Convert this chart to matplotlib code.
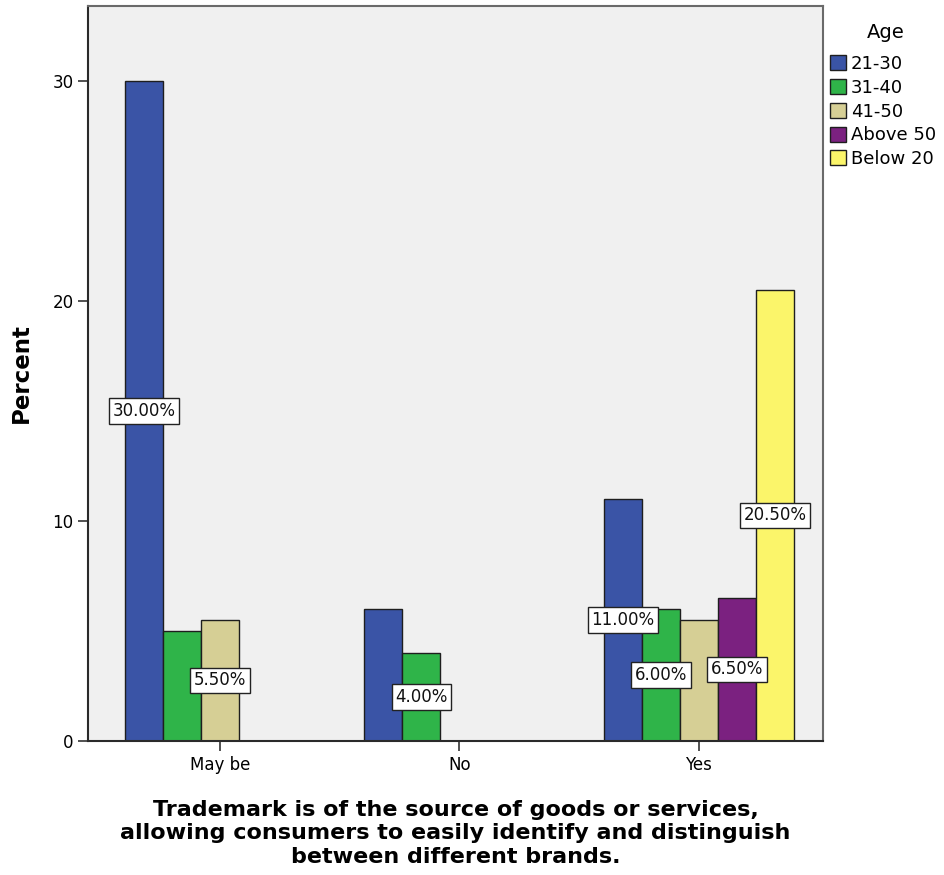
import matplotlib
matplotlib.use("Agg")
import matplotlib.pyplot as plt
from matplotlib.patches import Patch
import numpy as np

plt.rcParams['font.family'] = ['DejaVu Sans']

# Answer categories on the x axis and the age groups drawn as clustered bars
categories = ["May be", "No", "Yes"]
age_groups = ["21-30", "31-40", "41-50", "Above 50", "Below 20"]

# Percent of respondents per answer (nan = group absent for that answer)
pct_21_30 = [30.0, 6.0, 11.0]
pct_31_40 = [5.0, 4.0, 6.0]
pct_41_50 = [5.5, np.nan, 5.5]
pct_above_50 = [np.nan, np.nan, 6.5]
pct_below_20 = [np.nan, np.nan, 20.5]

# Which bars carry a value label
show_21_30 = [True, False, True]
show_31_40 = [False, True, True]
show_41_50 = [True, False, False]
show_above_50 = [False, False, True]
show_below_20 = [False, False, True]

y_ticks = [0, 10, 20, 30]

series = [pct_21_30, pct_31_40, pct_41_50, pct_above_50, pct_below_20]
shows = [show_21_30, show_31_40, show_41_50, show_above_50, show_below_20]
colors = ["#3a54a6", "#2fb449", "#d6cf95", "#7b2180", "#fbf56a"]

fig = plt.figure(figsize=(9.44, 8.75), dpi=100)
ax = fig.add_axes([88 / 944, 1 - 741 / 875, (823 - 88) / 944, (741 - 6) / 875])
ax.set_facecolor("#f0f0f0")

x = np.arange(len(categories))
width = 0.159
for i, (vals, show, col) in enumerate(zip(series, shows, colors)):
    pos = x + (i - 2) * width
    ax.bar(pos, vals, width=width, color=col, edgecolor="#1e1e1e",
           linewidth=1.0, zorder=2)
    for xp, v, s in zip(pos, vals, show):
        if s and not np.isnan(v):
            ax.text(xp, v / 2, f"{v:.2f}%", ha="center", va="center",
                    fontsize=12, color="#111111", zorder=4,
                    bbox=dict(boxstyle="square,pad=0.22", fc="white",
                              ec="#222222", lw=1.0))

ax.set_xlim(-0.551, 2.518)
ax.set_ylim(0, 33.4)
ax.set_xticks(x)
ax.set_xticklabels(categories, fontsize=12)
ax.set_yticks(y_ticks)
ax.set_yticklabels([str(t) for t in y_ticks], fontsize=12)
ax.tick_params(axis="both", direction="out", length=7.5, width=1.2,
               color="#333333", pad=3)

for side in ["left", "bottom"]:
    ax.spines[side].set_color("#2a2a2a")
    ax.spines[side].set_linewidth(1.5)
for side in ["top", "right"]:
    ax.spines[side].set_color("#6a6a6a")
    ax.spines[side].set_linewidth(1.5)

ax.set_ylabel("Percent", fontsize=16.5, fontweight="bold", labelpad=14)
ax.set_xlabel("Trademark is of the source of goods or services,\n"
              "allowing consumers to easily identify and distinguish\n"
              "between different brands.",
              fontsize=16, fontweight="bold", labelpad=19, linespacing=1.22)

handles = [Patch(facecolor=c, edgecolor="#1e1e1e", lw=1.0) for c in colors]
fig.legend(handles, age_groups, loc="upper left",
           bbox_to_anchor=(830 / 944, 1 - 55 / 875), frameon=False,
           fontsize=13, handlelength=0.9, handleheight=0.9,
           handletextpad=0.25, labelspacing=0.32,
           borderaxespad=0, borderpad=0)
fig.text(886 / 944, 1 - 32 / 875, "Age", ha="center", va="center",
         fontsize=14)

fig.savefig("out.png", dpi=100, facecolor="white")
